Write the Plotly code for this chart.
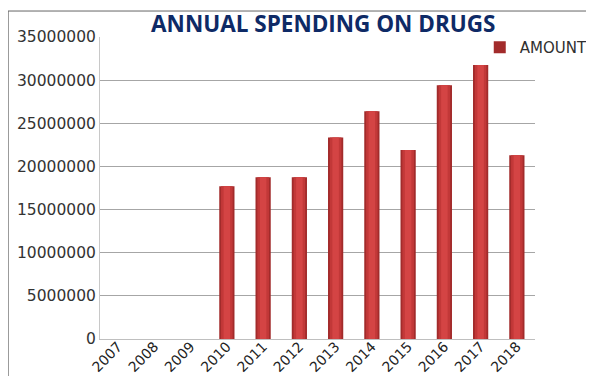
import plotly.graph_objects as go

years = ["2007", "2008", "2009", "2010", "2011", "2012", "2013", "2014", "2015", "2016", "2017", "2018"]
amount = [0, 0, 0, 17700000, 18750000, 18750000, 23350000, 26400000, 21900000, 29400000, 31750000, 21300000]
y_ticks = [0, 5000000, 10000000, 15000000, 20000000, 25000000, 30000000, 35000000]

fig = go.Figure()
# base (dark edges)
fig.add_trace(go.Bar(x=years, y=amount, name="AMOUNT", width=0.42,
                     marker=dict(color="#A22B2B", line=dict(width=0))))
# shading layers to mimic a cylinder
fig.add_trace(go.Bar(x=years, y=amount, width=0.32, showlegend=False, hoverinfo="skip",
                     marker=dict(color="#C23838", line=dict(width=0))))
fig.add_trace(go.Bar(x=years, y=amount, width=0.18, showlegend=False, hoverinfo="skip",
                     marker=dict(color="#D44444", line=dict(width=0))))

fig.update_layout(
    width=586, height=368,
    margin=dict(l=92, r=59, t=29, b=37, autoexpand=False),
    paper_bgcolor="white", plot_bgcolor="white",
    barmode="overlay",
    title=dict(text="<b>ANNUAL SPENDING ON DRUGS</b>", x=0.538, xanchor="center",
               yref="container", y=0.978, yanchor="top",
               font=dict(family="Open Sans", size=22.5, color="#0E2A66")),
    legend=dict(x=0.873, y=0.965, xanchor="left", yanchor="middle", bgcolor="rgba(0,0,0,0)",
                font=dict(family="DejaVu Sans", size=15, color="#303030"),
                itemwidth=30, tracegroupgap=0),
    font=dict(family="DejaVu Sans", size=15, color="#333333"),
    showlegend=True,
)
fig.update_xaxes(type="category", tickangle=-45, showgrid=False, showline=True, linecolor="#BFBFBF",
                 linewidth=1, ticks="", automargin=False, ticklabelstandoff=-7,
                 tickfont=dict(family="DejaVu Sans", size=14, color="#222222"))
fig.update_yaxes(range=[0, 35000000], tickvals=y_ticks, ticktext=[str(v) for v in y_ticks],
                 showgrid=True, gridcolor="#A6A6A6", gridwidth=1, showline=True, linecolor="#C8C8C8",
                 zeroline=False, ticks="", automargin=False,
                 tickfont=dict(family="DejaVu Sans", size=15.5, color="#333333"))

# outer frame (left and top edges)
fig.add_shape(type="line", xref="paper", yref="paper", x0=-0.2115, x1=-0.2115, y0=-0.15, y1=1.086,
              line=dict(color="#333333", width=1))
fig.add_shape(type="line", xref="paper", yref="paper", x0=-0.2115, x1=1.16, y0=1.086, y1=1.086,
              line=dict(color="#666666", width=1))

fig.write_html("out.html")
